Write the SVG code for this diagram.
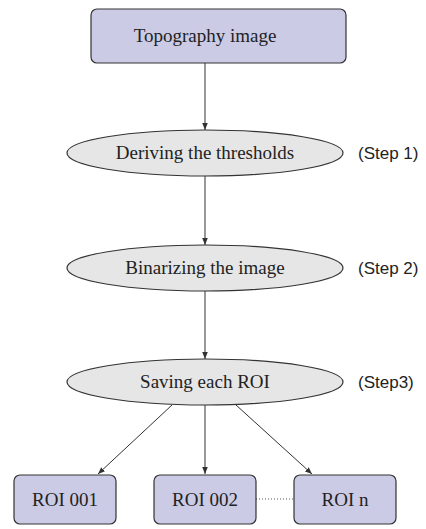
<svg xmlns="http://www.w3.org/2000/svg" width="426" height="529" viewBox="0 0 426 529">
  <defs>
    <marker id="arr" viewBox="0 0 10 10" refX="10" refY="5" markerWidth="7" markerHeight="7" markerUnits="userSpaceOnUse" orient="auto">
      <path d="M0,1 L10,5 L0,9 Z" fill="#333"/>
    </marker>
    <style>
      .box { fill: #cbcbe6; stroke: #333; stroke-width: 1.2; }
      .ell { fill: #e6e6e6; stroke: #333; stroke-width: 1.2; }
      .lbl { font-family: "Liberation Serif", "Times New Roman", serif; font-size: 19px; fill: #222; text-anchor: middle; }
      .step { font-family: "Liberation Sans", Arial, sans-serif; font-size: 17px; fill: #222; }
      .con { stroke: #333; stroke-width: 1; fill: none; marker-end: url(#arr); }
      .dot { stroke: #555; stroke-width: 1; stroke-dasharray: 1 2; fill: none; }
    </style>
  </defs>
  <rect width="426" height="529" fill="#fff"/>
  <g id="connectors">
    <line class="con" x1="205" y1="63" x2="205" y2="130"/>
    <line class="con" x1="205" y1="176" x2="205" y2="245"/>
    <line class="con" x1="205" y1="291" x2="205" y2="359"/>
    <line class="con" x1="172" y1="405" x2="98" y2="474"/>
    <line class="con" x1="205" y1="405" x2="205" y2="474"/>
    <line class="con" x1="236" y1="405" x2="312" y2="474"/>
    <line class="dot" x1="256" y1="499" x2="294" y2="499"/>
  </g>
  <g id="topography">
    <rect class="box" x="91" y="9" width="255" height="54" rx="6"/>
    <text class="lbl" x="205" y="42">Topography image</text>
  </g>
  <g id="step1">
    <ellipse class="ell" cx="205" cy="153" rx="138" ry="23"/>
    <text class="lbl" x="205" y="159">Deriving the thresholds</text>
  </g>
  <text class="step" x="358" y="159">(Step 1)</text>
  <g id="step2">
    <ellipse class="ell" cx="205" cy="268" rx="138" ry="23"/>
    <text class="lbl" x="205" y="274">Binarizing the image</text>
  </g>
  <text class="step" x="358" y="274">(Step 2)</text>
  <g id="step3">
    <ellipse class="ell" cx="205" cy="382" rx="138" ry="23"/>
    <text class="lbl" x="205" y="388">Saving each ROI</text>
  </g>
  <text class="step" x="358" y="388">(Step3)</text>
  <g id="roi001">
    <rect class="box" x="14" y="475" width="102" height="49" rx="6"/>
    <text class="lbl" x="65" y="506">ROI 001</text>
  </g>
  <g id="roi002">
    <rect class="box" x="154" y="475" width="102" height="49" rx="6"/>
    <text class="lbl" x="205" y="506">ROI 002</text>
  </g>
  <g id="roin">
    <rect class="box" x="294" y="475" width="102" height="49" rx="6"/>
    <text class="lbl" x="345" y="506">ROI n</text>
  </g>
</svg>
